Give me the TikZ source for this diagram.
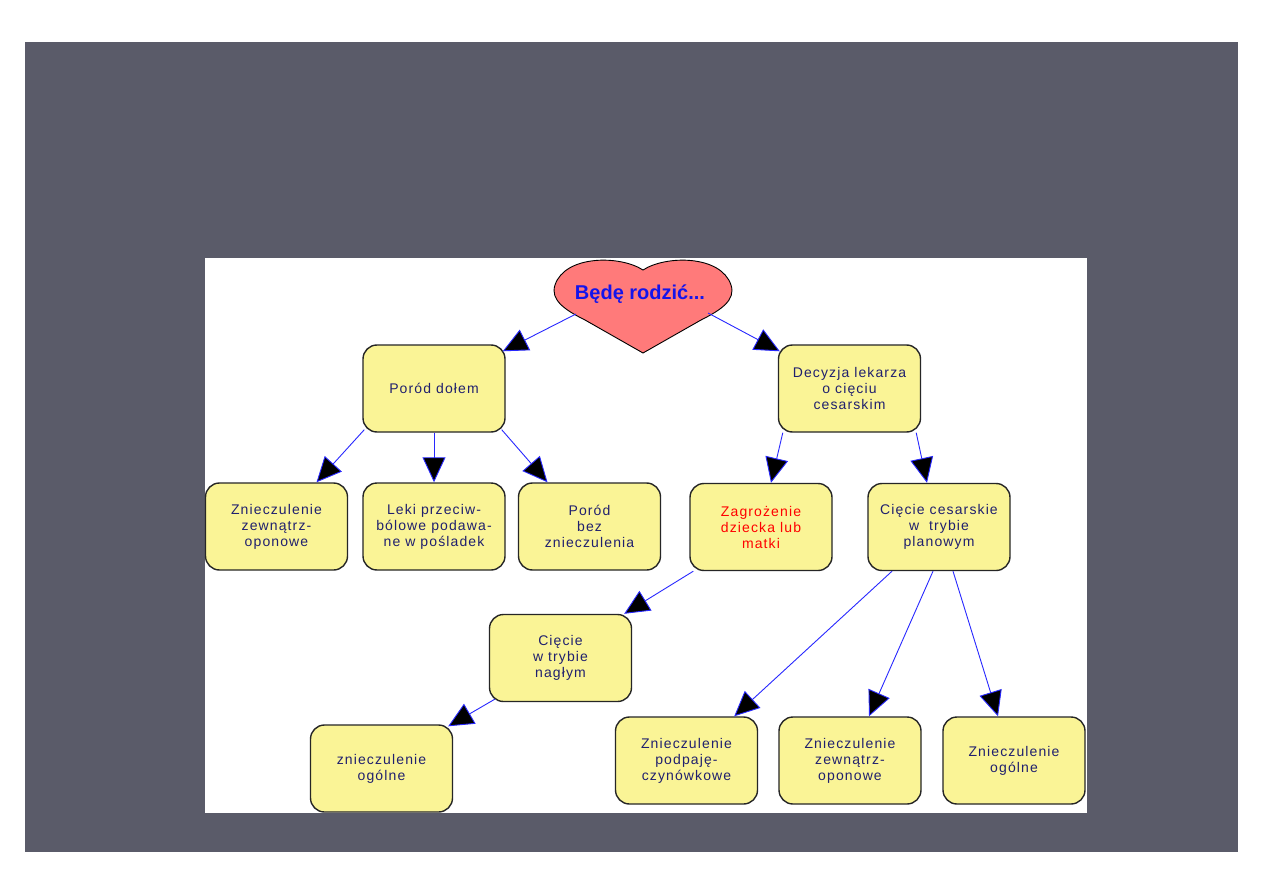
\documentclass[tikz,border=0pt]{standalone}
\usepackage{fontspec}
\setmainfont{Liberation Sans}
\newfontfamily\ramka[LetterSpace=8]{Liberation Sans}
\usetikzlibrary{arrows.meta}
\definecolor{slajd}{RGB}{90,91,105}
\definecolor{pole}{RGB}{250,244,150}
\definecolor{granat}{RGB}{32,32,110}
\definecolor{serce}{RGB}{255,122,122}
\definecolor{linia}{RGB}{40,40,255}
\definecolor{tytul}{RGB}{20,20,235}
\tikzset{
  box/.style={draw=black!85,line width=1.4pt,fill=pole,rounded corners=14pt,
    minimum width=142pt,minimum height=87pt,align=center,text=granat,
    font=\ramka\fontsize{14}{16}\selectfont},
  strz/.style={linia,line width=.9pt,-{Triangle[length=25pt,width=23pt,fill=black]}}
}

\begin{document}
\begin{tikzpicture}[x=1pt,y=-1pt]
\useasboundingbox (0,0) rectangle (1263,893);
\fill[slajd] (25,42) rectangle (1238,852);
\fill[white] (205,258) rectangle (1087,813);
\draw[fill=serce,line width=.9pt] (643,270) .. controls (620,255) and (565,255) .. (555,285)
  .. controls (550,300) and (565,310) .. (585,320) -- (643,353) -- (701,320)
  .. controls (721,310) and (736,300) .. (731,285)
  .. controls (721,255) and (666,255) .. (643,270) -- cycle;
\node[font=\bfseries\fontsize{20}{24}\selectfont,text=tytul] (tyt) at (640,294) {Będę rodzić...};
\coordinate (serceL) at (576,314);
\coordinate (serceR) at (708,313);

\node[box] (po) at (434,388.5) {Poród dołem};
\node[box] (dec) at (849.5,388.5) {Decyzja lekarza\\o cięciu\\cesarskim};
\node[box] (z1) at (276.5,526.5) {Znieczulenie\\zewnątrz-\\oponowe};
\node[box] (leki) at (434,526.5) {Leki przeciw-\\bólowe podawa-\\ne w pośladek};
\node[box] (bez) at (589.5,526.5) {Poród\\bez\\znieczulenia};
\node[box,text=red] (zag) at (761,527) {Zagrożenie\\dziecka lub\\matki};
\node[box] (plan) at (939,527) {Cięcie cesarskie\\w~ trybie\\planowym};
\node[box] (nag) at (560.5,658) {Cięcie\\w trybie\\nagłym};
\node[box] (og1) at (381.5,768.5) {znieczulenie\\ogólne};
\node[box] (pp) at (686.5,760.5) {Znieczulenie\\podpaję-\\czynówkowe};
\node[box] (zw) at (850,760.5) {Znieczulenie\\zewnątrz-\\oponowe};
\node[box] (og2) at (1014,760.5) {Znieczulenie\\ogólne};

\draw[strz] (serceL) -- ([shift={(-3,7)}]po.north east);
\draw[strz] (serceR) -- ([shift={(2,7)}]dec.north west);
\draw[strz] ([shift={(2,-3)}]po.south west) -- ([xshift=40pt]z1.north);
\draw[strz] (po.south) -- (leki.north);
\draw[strz] ([shift={(-4,-3)}]po.south east) -- ([xshift=-42pt]bez.north);
\draw[strz] ([xshift=5pt]dec.south west) -- ([xshift=10pt]zag.north);
\draw[strz] ([xshift=-5pt]dec.south east) -- ([xshift=-12pt]plan.north);
\draw[strz] ([xshift=4pt]zag.south west) -- ([xshift=-8pt]nag.north east);
\draw[strz] ([shift={(6,-3)}]nag.south west) -- ([shift={(-5,2)}]og1.north east);
\draw[strz] ([xshift=-47pt]plan.south) -- ([xshift=-24pt]pp.north east);
\draw[strz] ([xshift=-6pt]plan.south) -- ([xshift=19pt]zw.north);
\draw[strz] ([xshift=14pt]plan.south) -- ([xshift=-16pt]og2.north);
\end{tikzpicture}
\end{document}
